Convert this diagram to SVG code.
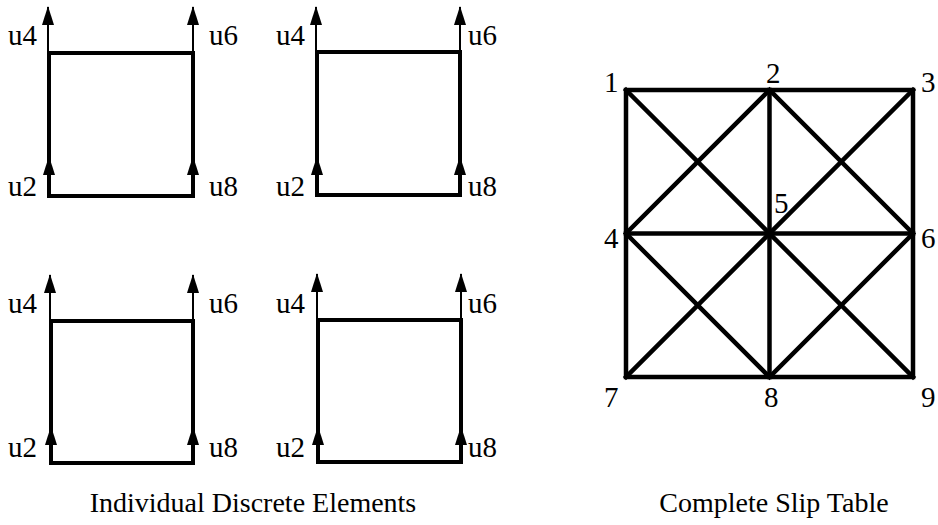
<svg xmlns="http://www.w3.org/2000/svg" width="938" height="525" viewBox="0 0 938 525">
<defs>
<marker id="ah" markerUnits="userSpaceOnUse" markerWidth="19" markerHeight="12" refX="18" refY="6" orient="auto">
<path d="M0,0 L19,6 L0,12 z" fill="#000"/>
</marker>
<style>
.box{fill:none;stroke:#000;stroke-width:4;stroke-linejoin:miter}
.arr{stroke:#000;stroke-width:2;fill:none;marker-end:url(#ah)}
.t{font-family:"Liberation Serif","Times New Roman",serif;font-size:29px;fill:#000}
.c{font-family:"Liberation Serif","Times New Roman",serif;font-size:28px;fill:#000}
.tab{fill:none;stroke:#000;stroke-width:4.5;stroke-linecap:square}
</style>
</defs>
<rect width="938" height="525" fill="#fff"/>

<g id="element1">
<rect class="box" x="49" y="53" width="144" height="143"/>
<line class="arr" x1="48" y1="54" x2="48" y2="7"/>
<line class="arr" x1="193" y1="54" x2="193" y2="7"/>
<line class="arr" x1="49" y1="196" x2="49" y2="157"/>
<line class="arr" x1="193" y1="196" x2="193" y2="157"/>
<text class="t" x="8" y="45">u4</text>
<text class="t" x="209" y="45">u6</text>
<text class="t" x="8" y="196">u2</text>
<text class="t" x="209" y="196">u8</text>
</g>

<g id="element2">
<rect class="box" x="317" y="52" width="143" height="143"/>
<line class="arr" x1="316" y1="53" x2="316" y2="7"/>
<line class="arr" x1="460" y1="53" x2="460" y2="7"/>
<line class="arr" x1="317" y1="195" x2="317" y2="157"/>
<line class="arr" x1="460" y1="195" x2="460" y2="157"/>
<text class="t" x="276" y="45">u4</text>
<text class="t" x="468" y="45">u6</text>
<text class="t" x="276" y="196">u2</text>
<text class="t" x="468" y="196">u8</text>
</g>

<g id="element3">
<rect class="box" x="51" y="321" width="142" height="142"/>
<line class="arr" x1="50" y1="322" x2="50" y2="275"/>
<line class="arr" x1="193" y1="322" x2="193" y2="275"/>
<line class="arr" x1="51" y1="463" x2="51" y2="427"/>
<line class="arr" x1="193" y1="463" x2="193" y2="427"/>
<text class="t" x="8" y="313">u4</text>
<text class="t" x="209" y="313">u6</text>
<text class="t" x="8" y="457">u2</text>
<text class="t" x="209" y="457">u8</text>
</g>

<g id="element4">
<rect class="box" x="318" y="320" width="143" height="142"/>
<line class="arr" x1="317" y1="321" x2="317" y2="274"/>
<line class="arr" x1="461" y1="321" x2="461" y2="274"/>
<line class="arr" x1="318" y1="462" x2="318" y2="427"/>
<line class="arr" x1="461" y1="462" x2="461" y2="427"/>
<text class="t" x="276" y="313">u4</text>
<text class="t" x="468" y="313">u6</text>
<text class="t" x="276" y="457">u2</text>
<text class="t" x="468" y="457">u8</text>
</g>

<g id="slip-table">
<rect class="tab" x="626" y="90" width="287" height="287"/>
<line class="tab" x1="769.5" y1="90" x2="769.5" y2="377"/>
<line class="tab" x1="626" y1="233.5" x2="913" y2="233.5"/>
<line class="tab" x1="626" y1="90" x2="913" y2="377"/>
<line class="tab" x1="913" y1="90" x2="626" y2="377"/>
<path class="tab" d="M769.5,90 L626,233.5 L769.5,377 L913,233.5 Z"/>
</g>

<g id="table-labels">
<text class="t" x="604" y="92">1</text>
<text class="t" x="766" y="83">2</text>
<text class="t" x="921" y="92">3</text>
<text class="t" x="604" y="248">4</text>
<text class="t" x="774" y="213">5</text>
<text class="t" x="921" y="248">6</text>
<text class="t" x="604" y="407">7</text>
<text class="t" x="764" y="407">8</text>
<text class="t" x="921" y="407">9</text>
</g>

<g id="captions">
<text class="c" x="253" y="512" text-anchor="middle">Individual Discrete Elements</text>
<text class="c" x="774" y="512" text-anchor="middle">Complete Slip Table</text>
</g>
</svg>
